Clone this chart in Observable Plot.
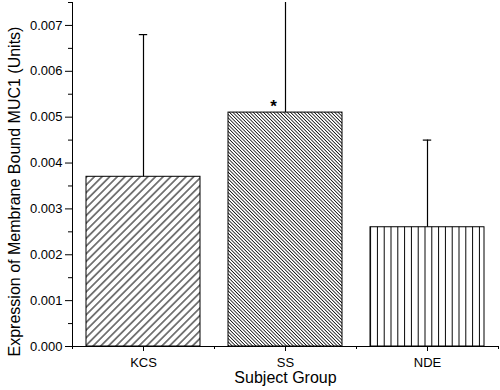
<!DOCTYPE html>
<html>
<head>
<meta charset="utf-8">
<script src="https://cdn.jsdelivr.net/npm/d3@7"></script>
<script src="https://cdn.jsdelivr.net/npm/@observablehq/plot@0.6"></script>
<style>
  html, body { margin: 0; padding: 0; background: #fff; }
  #chart svg { display: block; font-family: "Liberation Sans", Arial, sans-serif; }
</style>
</head>
<body>
<div id="chart"></div>
<script>
// ---- data ----
const groups = ["KCS", "SS", "NDE"];
const means = [0.0037, 0.0051, 0.0026];
const upperErr = [0.0068, 0.0085, 0.0045];
const yTicks = [0, 0.001, 0.002, 0.003, 0.004, 0.005, 0.006, 0.007];
const yMinorTicks = [0.0005, 0.0015, 0.0025, 0.0035, 0.0045, 0.0055, 0.0065, 0.0075];
const significant = ["SS"];

// ---- styling ----
const fillFor = {KCS: "url(#hatchFwd)", SS: "url(#hatchBack)", NDE: "url(#hatchVert)"};
const W = 500, H = 390, mL = 72, mR = 2, mT = 2, mB = 44;
const pad = 0.2;
const step = (W - mL - mR) / groups.length;
const bw = step * (1 - pad);
const capW = 8;

const data = groups.map((g, i) => ({group: g, mean: means[i], hi: upperErr[i], fill: fillFor[g]}));

const plot = Plot.plot({
  width: W, height: H,
  marginLeft: mL, marginRight: mR, marginTop: mT, marginBottom: mB,
  style: {fontFamily: "Liberation Sans, Arial, sans-serif", color: "#000", background: "#fff"},
  x: {domain: groups, paddingInner: pad, paddingOuter: pad / 2, label: null},
  y: {domain: [0, 0.0075], label: null},
  color: {type: "identity"},
  marks: [
    Plot.barY(data, {x: "group", y: "mean", fill: "fill", stroke: "#000", strokeWidth: 1}),
    Plot.ruleX(data, {x: "group", y1: "mean", y2: "hi", stroke: "#000", strokeWidth: 1.2, clip: true}),
    Plot.tickY(data.filter(d => d.hi <= 0.0075), {x: "group", y: "hi", stroke: "#000", strokeWidth: 1.2,
      insetLeft: (bw - capW) / 2, insetRight: (bw - capW) / 2}),
    Plot.text(data.filter(d => significant.includes(d.group)), {x: "group", y: "mean", text: () => "*",
      dx: -12, dy: -6, fontSize: 17, fontWeight: "bold", fill: "#000"}),
    Plot.frame({anchor: "left", stroke: "#000", strokeWidth: 1}),
    Plot.frame({anchor: "bottom", stroke: "#000", strokeWidth: 1}),
    Plot.axisY({ticks: yTicks, tickFormat: d3.format(".3f"), tickSize: 7, tickPadding: 3,
      fontSize: 13, label: null, stroke: "#000"}),
    Plot.axisY({ticks: yMinorTicks, tickFormat: null, text: null, tickSize: 4, label: null}),
    Plot.axisX({tickSize: 5, tickPadding: 6, fontSize: 13, label: null}),
    // minor x ticks at the band boundaries
    Plot.ruleX(groups, {x: d => d, dx: -step / 2, y1: 0, y2: 0, insetBottom: -3, stroke: "#000"}),
    Plot.ruleX(groups.slice(-1), {x: d => d, dx: step / 2, y1: 0, y2: 0, insetBottom: -3, stroke: "#000"}),
    Plot.text(["Subject Group"], {frameAnchor: "bottom", dy: 31, fontSize: 16, fill: "#000", lineAnchor: "middle"}),
    Plot.text(["Expression of Membrane Bound MUC1 (Units)"], {frameAnchor: "left", dx: -58, dy: 17,
      rotate: -90, fontSize: 16, fill: "#000", lineAnchor: "middle", textAnchor: "middle"})
  ]
});

// hatch patterns
const defs = d3.select(plot).insert("defs", ":first-child");
function hatch(id, size, angle, sw, color) {
  const p = defs.append("pattern").attr("id", id).attr("patternUnits", "userSpaceOnUse")
    .attr("width", size).attr("height", size)
    .attr("patternTransform", `rotate(${angle})`);
  p.append("rect").attr("width", size).attr("height", size).attr("fill", "#fff");
  p.append("line").attr("x1", size / 2).attr("x2", size / 2).attr("y1", 0).attr("y2", size)
    .attr("stroke", color).attr("stroke-width", sw);
}
hatch("hatchFwd", 5.4, 45, 1, "#000");
hatch("hatchBack", 2.4, -45, 0.8, "#111");
hatch("hatchVert", 6.8, 0, 1, "#000");

document.getElementById("chart").appendChild(plot);
</script>
</body>
</html>
